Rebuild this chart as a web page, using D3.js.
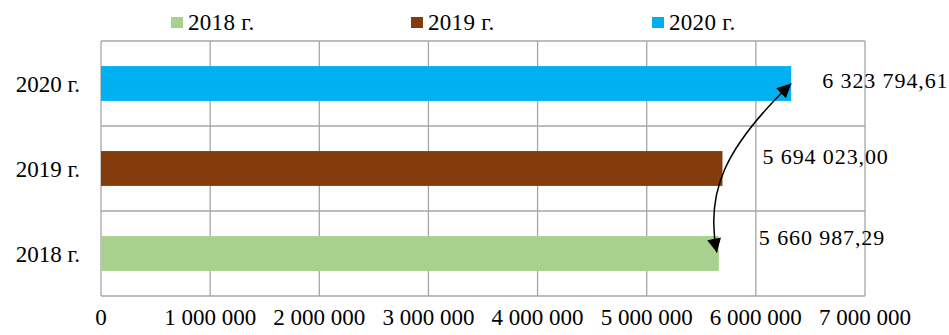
<!DOCTYPE html>
<html>
<head>
<meta charset="utf-8">
<script src="https://cdn.jsdelivr.net/npm/d3@7/dist/d3.min.js"></script>
<style>
  html, body { margin: 0; padding: 0; background: #fff; }
  svg { display: block; }
</style>
</head>
<body>
<svg id="chart" width="949" height="335"></svg>
<script>
// Annual totals by year
const categories = ["2018 г.", "2019 г.", "2020 г."];
const values = [5660987.29, 5694023.00, 6323794.61];
const valueLabels = ["5 660 987,29", "5 694 023,00", "6 323 794,61"];
const colors = ["#A9D18E", "#843C0C", "#00B0F0"];
const xTicks = [0, 1000000, 2000000, 3000000, 4000000, 5000000, 6000000, 7000000];
const xTickLabels = ["0", "1 000 000", "2 000 000", "3 000 000", "4 000 000", "5 000 000", "6 000 000", "7 000 000"];

// Data label placement relative to the bar end (dx, dy)
const labelOffsets = [[40, -9], [40, -5], [31, 4]];

const FONT = "'Liberation Serif', 'Times New Roman', 'DejaVu Serif', serif";

const svg = d3.select("#chart")
  .attr("font-family", FONT);
const margin = { left: 101, right: 84, top: 41, bottom: 39 };
const W = 949, H = 335;

const x = d3.scaleLinear().domain([0, 7000000]).range([margin.left, W - margin.right]);
// 2020 at the top, 2018 at the bottom
const y = d3.scaleBand().domain(categories.slice().reverse())
  .range([margin.top, H - margin.bottom]).paddingInner(0).paddingOuter(0);
const barH = y.bandwidth() * 0.41;

const grid = svg.append("g").attr("stroke", "#A6A6A6").attr("stroke-width", 1.3);
// vertical gridlines at value ticks
grid.selectAll("line.v").data(xTicks).join("line")
  .attr("x1", d => x(d)).attr("x2", d => x(d))
  .attr("y1", y.range()[0]).attr("y2", y.range()[1]);
// horizontal lines at category boundaries
const bounds = categories.map(c => y(c)).concat([y.range()[1]]);
grid.selectAll("line.h").data(bounds).join("line")
  .attr("x1", x(0)).attr("x2", x(7000000))
  .attr("y1", d => d).attr("y2", d => d);

// bars
svg.append("g").selectAll("rect").data(categories).join("rect")
  .attr("x", x(0))
  .attr("y", (c) => y(c) + (y.bandwidth() - barH) / 2)
  .attr("width", (c, i) => x(values[i]) - x(0))
  .attr("height", barH)
  .attr("fill", (c, i) => colors[i]);

// category labels
svg.append("g").selectAll("text").data(categories).join("text")
  .attr("font-family", FONT)
  .attr("x", 80)
  .attr("y", c => y(c) + y.bandwidth() / 2 + 8)
  .attr("text-anchor", "end")
  .attr("font-size", 23)
  .text(c => c);

// value axis tick labels
svg.append("g").selectAll("text").data(xTicks).join("text")
  .attr("font-family", FONT)
  .attr("x", d => x(d))
  .attr("y", 325)
  .attr("text-anchor", "middle")
  .attr("font-size", 23)
  .text((d, i) => xTickLabels[i]);

// data labels
svg.append("g").selectAll("text").data(categories).join("text")
  .attr("font-family", FONT)
  .attr("x", (c, i) => x(values[i]) + labelOffsets[i][0])
  .attr("y", (c, i) => y(c) + y.bandwidth() / 2 + labelOffsets[i][1])
  .attr("font-size", 22)
  .attr("letter-spacing", 0.9)
  .text((c, i) => valueLabels[i]);

// legend
const legendX = [171, 411, 652];
const legend = svg.append("g").selectAll("g").data(categories).join("g")
  .attr("transform", (c, i) => `translate(${legendX[i]},0)`);
legend.append("rect").attr("x", 0).attr("y", 17).attr("width", 12).attr("height", 11)
  .attr("fill", (c, i) => colors[i]);
legend.append("text").attr("font-family", FONT)
  .attr("x", 17).attr("y", 30).attr("font-size", 23).attr("letter-spacing", 0.3).text(c => c);

// double-headed curved arrow from the 2018 bar end to the 2020 bar end
const defs = svg.append("defs");
defs.append("marker").attr("id", "head")
  .attr("viewBox", "0 0 10 10").attr("refX", 10).attr("refY", 5)
  .attr("markerWidth", 17).attr("markerHeight", 14).attr("markerUnits", "userSpaceOnUse")
  .attr("orient", "auto-start-reverse")
  .append("path").attr("d", "M0,0 L10,5 L0,10 Z").attr("fill", "#000");

const bandMid = c => y(c) + y.bandwidth() / 2;
const p0 = [x(values[0]) - 2, bandMid(categories[0]) - 1];
const p1 = [x(values[2]), bandMid(categories[2])];
const path = d3.path();
path.moveTo(p0[0], p0[1]);
path.bezierCurveTo(p0[0] - 12, p0[1] - 60, p0[0] + 8, p0[1] - 105, p1[0], p1[1]);
svg.append("path").attr("d", path.toString())
  .attr("fill", "none").attr("stroke", "#000").attr("stroke-width", 1.5)
  .attr("marker-start", "url(#head)").attr("marker-end", "url(#head)");
</script>
</body>
</html>
